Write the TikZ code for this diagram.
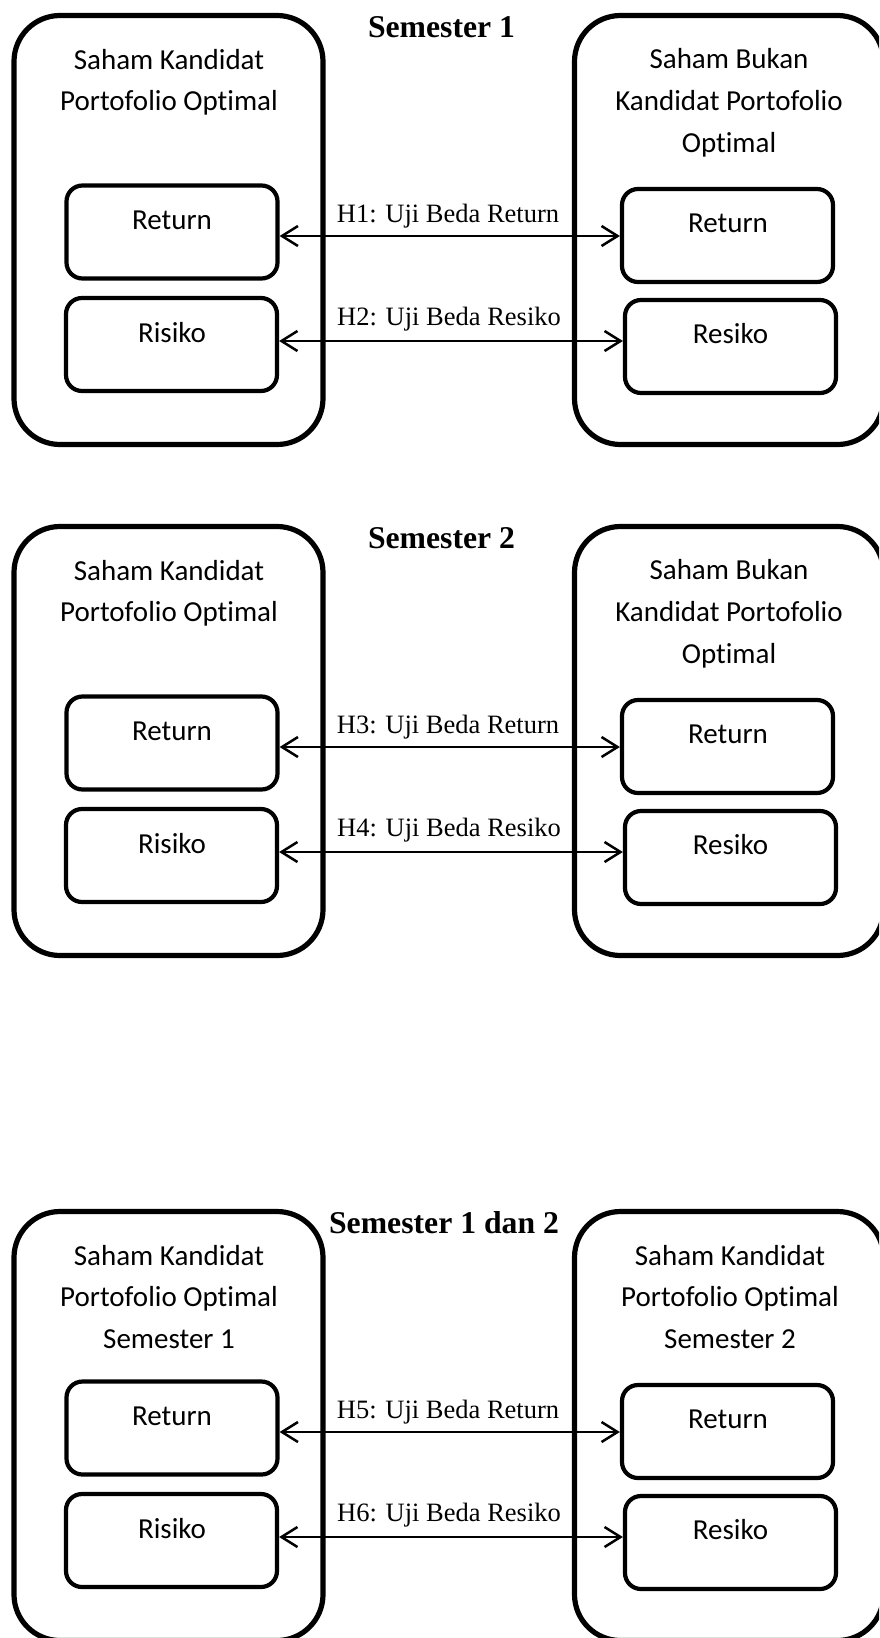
\documentclass[tikz,border=0pt]{standalone}
\usepackage{fontspec}
\setmainfont{Liberation Serif}
\newfontfamily\calib[Ligatures=NoCommon]{Carlito}
\usetikzlibrary{arrows.meta}
\tikzset{
  outerbox/.style={draw, line width=5.2pt, rounded corners=46pt, inner sep=0pt, minimum width=309pt, minimum height=429pt},
  innerbox/.style={draw, line width=4.2pt, rounded corners=16pt, inner sep=0pt, minimum width=211pt, minimum height=93pt},
  sans/.style={font=\calib\fontsize{29}{35}\selectfont, anchor=base, inner sep=0pt},
  lab/.style={font=\fontsize{26.5}{32}\selectfont, anchor=base, inner sep=0pt},
  ttl/.style={font=\bfseries\fontsize{31.7}{38}\selectfont, anchor=base, inner sep=0pt},
  arr/.style={line width=2.5pt, {Straight Barb[length=16pt,width=20pt]}-{Straight Barb[length=16pt,width=20pt]}}
}
\begin{document}
\begin{tikzpicture}[x=1pt,y=-1pt]
\path[use as bounding box] (0,0) rectangle (879,1638);
\clip (0,0) rectangle (879,1638);
% ---------- Section 1 ----------
\begin{scope}
  \node[outerbox] (oLa) at (168.5,230) {};
  \node[outerbox] (oRa) at (729,230) {};
  \node[ttl] (ta) at (441.5,37) {Semester 1};
  \node[sans] (lLa1) at (169,69) {Saham Kandidat};
  \node[sans] (lLa2) at (169,110) {Portofolio Optimal};
  \node[sans] (lRa1) at (729,68) {Saham Bukan};
  \node[sans] (lRa2) at (729,110) {Kandidat Portofolio};
  \node[sans] (lRa3) at (729,152) {Optimal};
  \node[innerbox] (rLa) at (172,232) {};
  \node[innerbox] (kLa) at (171.5,344.5) {};
  \node[innerbox] (rRa) at (727.5,235.5) {};
  \node[innerbox] (kRa) at (730.5,346.5) {};
  \node[sans] (trLa) at (172,229) {Return};
  \node[sans] (tkLa) at (172,342) {Risiko};
  \node[sans] (trRa) at (728,232) {Return};
  \node[sans] (tkRa) at (730.5,343) {Resiko};
  \draw[arr] ([yshift=-4pt]rLa.east) -- ([yshift=-4pt]rLa.east -| rRa.west);
  \draw[arr] ([yshift=3.5pt]kLa.east) -- ([yshift=3.5pt]kLa.east -| kRa.west);
  \node[lab] (hA) at (448,222) {H1: Uji Beda Return};
  \node[lab] (hB) at (449,325) {H2: Uji Beda Resiko};
\end{scope}
% ---------- Section 2 ----------
\begin{scope}[shift={(0,511)}]
  \node[outerbox] (oLb) at (168.5,230) {};
  \node[outerbox] (oRb) at (729,230) {};
  \node[ttl] (tb) at (441.5,37) {Semester 2};
  \node[sans] (lLb1) at (169,69) {Saham Kandidat};
  \node[sans] (lLb2) at (169,110) {Portofolio Optimal};
  \node[sans] (lRb1) at (729,68) {Saham Bukan};
  \node[sans] (lRb2) at (729,110) {Kandidat Portofolio};
  \node[sans] (lRb3) at (729,152) {Optimal};
  \node[innerbox] (rLb) at (172,232) {};
  \node[innerbox] (kLb) at (171.5,344.5) {};
  \node[innerbox] (rRb) at (727.5,235.5) {};
  \node[innerbox] (kRb) at (730.5,346.5) {};
  \node[sans] (trLb) at (172,229) {Return};
  \node[sans] (tkLb) at (172,342) {Risiko};
  \node[sans] (trRb) at (728,232) {Return};
  \node[sans] (tkRb) at (730.5,343) {Resiko};
  \draw[arr] ([yshift=-4pt]rLb.east) -- ([yshift=-4pt]rLb.east -| rRb.west);
  \draw[arr] ([yshift=3.5pt]kLb.east) -- ([yshift=3.5pt]kLb.east -| kRb.west);
  \node[lab] (hC) at (448,222) {H3: Uji Beda Return};
  \node[lab] (hD) at (449,325) {H4: Uji Beda Resiko};
\end{scope}
% ---------- Section 3 ----------
\begin{scope}[shift={(0,1196)}]
  \node[outerbox] (oLc) at (168.5,230) {};
  \node[outerbox] (oRc) at (729,230) {};
  \node[ttl] (tc) at (444,37) {Semester 1 dan 2};
  \node[sans] (lLc1) at (169,69) {Saham Kandidat};
  \node[sans] (lLc2) at (169,110) {Portofolio Optimal};
  \node[sans] (lLc3) at (169,152) {Semester 1};
  \node[sans] (lRc1) at (730,69) {Saham Kandidat};
  \node[sans] (lRc2) at (730,110) {Portofolio Optimal};
  \node[sans] (lRc3) at (730,152) {Semester 2};
  \node[innerbox] (rLc) at (172,232) {};
  \node[innerbox] (kLc) at (171.5,344.5) {};
  \node[innerbox] (rRc) at (727.5,235.5) {};
  \node[innerbox] (kRc) at (730.5,346.5) {};
  \node[sans] (trLc) at (172,229) {Return};
  \node[sans] (tkLc) at (172,342) {Risiko};
  \node[sans] (trRc) at (728,232) {Return};
  \node[sans] (tkRc) at (730.5,343) {Resiko};
  \draw[arr] ([yshift=-4pt]rLc.east) -- ([yshift=-4pt]rLc.east -| rRc.west);
  \draw[arr] ([yshift=3.5pt]kLc.east) -- ([yshift=3.5pt]kLc.east -| kRc.west);
  \node[lab] (hE) at (448,222) {H5: Uji Beda Return};
  \node[lab] (hF) at (449,325) {H6: Uji Beda Resiko};
\end{scope}
\end{tikzpicture}
\end{document}
